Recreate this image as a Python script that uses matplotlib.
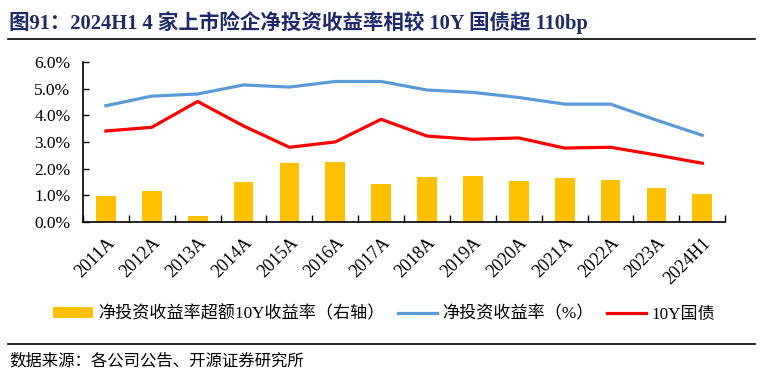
import matplotlib
matplotlib.use("Agg")
import matplotlib.pyplot as plt
import numpy as np
from matplotlib.lines import Line2D
from matplotlib.patches import Patch

categories = ["2011A", "2012A", "2013A", "2014A", "2015A", "2016A", "2017A",
              "2018A", "2019A", "2020A", "2021A", "2022A", "2023A", "2024H1"]
net_yield = [4.36, 4.72, 4.80, 5.14, 5.06, 5.27, 5.27, 4.95, 4.86, 4.67, 4.42, 4.42, 3.82, 3.25]
bond_10y = [3.41, 3.55, 4.52, 3.60, 2.80, 3.00, 3.85, 3.22, 3.10, 3.15, 2.77, 2.80, 2.51, 2.20]
excess = [0.97, 1.16, 0.22, 1.50, 2.21, 2.25, 1.42, 1.69, 1.72, 1.54, 1.65, 1.57, 1.27, 1.05]
yticks = [0, 1, 2, 3, 4, 5, 6]

serif = ["Liberation Serif", "Noto Sans CJK SC"]
plt.rcParams["font.family"] = serif

fig = plt.figure(figsize=(7.61, 3.76), dpi=100)
ax = fig.add_axes([0.109, 0.41, 0.844, 0.425])

x = np.arange(len(categories))
ax.bar(x, excess, width=0.43, color="#FFC000", zorder=2)
ax.plot(x, net_yield, color="#5B9BD5", lw=2.3, zorder=3)
ax.plot(x, bond_10y, color="#FF0000", lw=2.3, zorder=3)

ax.set_xlim(-0.5, len(categories) - 0.5)
ax.set_ylim(0, 6)
ax.set_yticks(yticks)
ax.set_yticklabels([f"{v:.1f}%" for v in yticks], fontsize=12.5, family="Liberation Serif")
ax.set_xticks(x)
ax.set_xticklabels(categories, rotation=45, ha="right", rotation_mode="anchor",
                   fontsize=13, family="Liberation Serif")
ax.tick_params(axis="x", length=0, pad=9)
ax.set_xticks(np.arange(-0.5, len(categories), 1), minor=True)
ax.tick_params(axis="x", which="minor", direction="in", length=5, width=1)
ax.tick_params(axis="y", direction="in", length=4, width=1, pad=9)
for s in ["top", "right"]:
    ax.spines[s].set_visible(False)
for s in ["left", "bottom"]:
    ax.spines[s].set_linewidth(1.2)

# Title
fig.text(0.012, 0.94, "图91：2024H1 4 家上市险企净投资收益率相较 10Y 国债超 110bp",
         fontsize=14.8, fontweight="bold", color="#1F2A6B", family=serif,
         va="center", ha="left")
fig.add_artist(Line2D([0.011, 0.992], [0.895, 0.895], color="black", lw=1.2))

# Legend
handles = [Patch(facecolor="#FFC000", edgecolor="none"),
           Line2D([0], [0], color="#5B9BD5", lw=2.3),
           Line2D([0], [0], color="#FF0000", lw=2.3)]
labels = ["净投资收益率超额10Y收益率（右轴）", "净投资收益率（%）", "10Y国债"]
leg = fig.legend(handles, labels, loc="center", bbox_to_anchor=(0.505, 0.164), ncol=3,
                 frameon=False, handlelength=2.3, handleheight=0.55, handletextpad=0.3,
                 columnspacing=0.8, prop={"family": serif, "size": 12.3})

fig.add_artist(Line2D([0.011, 0.992], [0.085, 0.085], color="black", lw=1.2))
fig.text(0.012, 0.04, "数据来源：各公司公告、开源证券研究所", fontsize=11.8,
         family=serif, va="center", ha="left")

fig.savefig("out.png", dpi=100)
